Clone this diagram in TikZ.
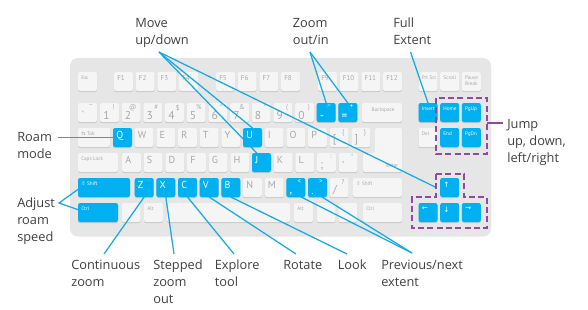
\documentclass[tikz,border=0pt]{standalone}
\usepackage{fontspec}
\setmainfont{Open Sans}
\newfontfamily\keyfont{PT Sans}
\newfontfamily\symfont{DejaVu Sans}
\usetikzlibrary{calc}

\definecolor{bodyc}{HTML}{E6E6E6}
\definecolor{gF}{HTML}{F5F5F5}
\definecolor{gT}{HTML}{A9A9A9}
\definecolor{bF}{HTML}{00B0F0}
\definecolor{bT}{HTML}{FFFFFF}
\definecolor{connc}{HTML}{18AAE6}
\definecolor{txtc}{HTML}{404040}
\definecolor{purp}{HTML}{8E4A9C}

\tikzset{
  keybase/.style={inner sep=0pt, outer sep=0pt, rounded corners=1.6pt, anchor=north west,
     preaction={fill=black, fill opacity=0.13, transform canvas={yshift=-0.8pt}}},
  gk/.style={keybase, fill=gF},
  bk/.style={keybase, fill=bF},
  klab/.style={inner sep=0pt, font=\keyfont\fontsize{7.6}{7.6}\selectfont},
  flab/.style={inner sep=0pt, font=\keyfont\fontsize{5.3}{5.5}\selectfont},
  dlab/.style={inner sep=0pt, font=\keyfont\fontsize{8.6}{8.6}\selectfont},
  slab/.style={inner sep=0pt, font=\keyfont\fontsize{5.2}{5.2}\selectfont},
  tlab/.style={inner sep=0pt, align=left, font=\keyfont\fontsize{3.9}{4.4}\selectfont},
  alab/.style={inner sep=0pt, font=\symfont\fontsize{5.5}{5.5}\selectfont},
  conn/.style={draw=connc, line width=0.95pt},
  jline/.style={draw=purp, line width=1.1pt},
  lbl/.style={inner sep=0pt, anchor=north west, align=left, text=txtc,
     font=\fontsize{9.6}{12.75}\selectfont},
  jumpbox/.style={draw=purp, line width=1.5pt, dash pattern=on 4.4pt off 2.6pt},
}

% key: colour(g|b) name x1 y1 x2 y2
\newcommand\K[6]{\node[#1k, minimum width={(#5-(#3))*0.75pt}, minimum height={(#6-(#4))*0.75pt}] (#2) at (#3,#4) {};}
% key with top-left legend
\newcommand\KX[8]{\K{#1}{#2}{#3}{#4}{#5}{#6}\node[#7, text=#1T, anchor=north west] (#2t) at ($(#2.north west)+(3,3.5)$) {#8};}
% standard 19x19 key
\newcommand\KS[6]{\KX{#1}{#2}{#3}{#4}{#3+19}{#4+19}{#5}{#6}}
% two-legend key: colour name x y lower upper
\newcommand\KN[6]{\K{#1}{#2}{#3}{#4}{#3+19}{#4+19}%
  \node[dlab, text=#1T, anchor=south west] (#2d) at ($(#2.south west)+(3,-2)$) {#5};%
  \node[slab, text=#1T, anchor=north east] (#2u) at ($(#2.north east)+(-4,1.5)$) {#6};}

\begin{document}
\begin{tikzpicture}[x=0.75pt, y=-0.75pt]
\useasboundingbox (0,0) rectangle (588,310);

% keyboard body
\path[fill=bodyc, rounded corners=6pt,
  preaction={fill=black, fill opacity=0.10, transform canvas={yshift=-1.2pt}}]
  (70,58) rectangle (491,235);

% function row
\KS{g}{kEsc}{78}{72}{tlab}{Esc}
\KS{g}{kFa}{114}{72}{flab}{F1}
\KS{g}{kFb}{135.67}{72}{flab}{F2}
\KS{g}{kFc}{157.33}{72}{flab}{F3}
\KS{g}{kFd}{179}{72}{flab}{F4}
\KS{g}{kFe}{216}{72}{flab}{F5}
\KS{g}{kFf}{237.67}{72}{flab}{F6}
\KS{g}{kFg}{259.33}{72}{flab}{F7}
\KS{g}{kFh}{281}{72}{flab}{F8}
\KS{g}{kFi}{318}{72}{flab}{F9}
\KS{g}{kFj}{339.67}{72}{flab}{F10}
\KS{g}{kFk}{361.33}{72}{flab}{F11}
\KS{g}{kFl}{383}{72}{flab}{F12}
\KS{g}{kPrt}{418.5}{72}{tlab}{Prt Scr}
\KS{g}{kScr}{440.17}{72}{tlab}{Scroll}
\KS{g}{kPau}{461.83}{72}{tlab}{Pause\\Break}

% number row
\KN{g}{kGrave}{78}{103}{\textasciigrave}{\textasciitilde}
\KN{g}{kOne}{100}{103}{1}{!}
\KN{g}{kTwo}{121.67}{103}{2}{@}
\KN{g}{kThree}{143.33}{103}{3}{\#}
\KN{g}{kFour}{165}{103}{4}{\$}
\KN{g}{kFive}{186.67}{103}{5}{\%}
\KN{g}{kSix}{208.33}{103}{6}{\textasciicircum}
\KN{g}{kSeven}{230}{103}{7}{\&}
\KN{g}{kEight}{251.67}{103}{8}{*}
\KN{g}{kNine}{273.33}{103}{9}{(}
\KN{g}{kZero}{295}{103}{0}{)}
\KN{b}{kMinus}{316.67}{103}{-}{–}
\KN{b}{kEq}{338.33}{103}{=}{+}
\K{g}{kBksp}{362}{103}{402}{122}
\node[tlab, text=gT, anchor=north] (kBkspt) at ($(kBksp.north)+(1,4.5)$) {Backspace};
\KS{b}{kIns}{418.5}{103}{tlab}{Insert}
\KS{b}{kHome}{440.17}{103}{tlab}{Home}
\KS{b}{kPgUp}{461.83}{103}{tlab}{PgUp}

% qwerty row
\KX{g}{kTab}{78}{128}{110}{147}{tlab}{{\symfont ⇆} Tab}
\KS{b}{kQ}{113}{128}{klab}{Q}
\KS{g}{kW}{134.67}{128}{klab}{W}
\KS{g}{kE}{156.33}{128}{klab}{E}
\KS{g}{kR}{178}{128}{klab}{R}
\KS{g}{kT}{199.67}{128}{klab}{T}
\KS{g}{kY}{221.33}{128}{klab}{Y}
\KS{b}{kU}{243}{128}{klab}{U}
\KS{g}{kI}{264.67}{128}{klab}{I}
\KS{g}{kO}{286.33}{128}{klab}{O}
\KS{g}{kP}{308}{128}{klab}{P}
\KN{g}{kLBr}{329.67}{128}{[}{\{}
\KN{g}{kRBr}{351.33}{128}{]}{\}}
\path[fill=gF, rounded corners=1.6pt,
  preaction={fill=black, fill opacity=0.13, transform canvas={yshift=-0.8pt}}]
  (375,128) -- (402,128) -- (402,172) -- (363,172) -- (363,153) -- (375,153) -- cycle;
\coordinate (kEnter) at (402,172);
\node[tlab, text=gT, anchor=south east] (kEntert) at ($(kEnter)+(-3.5,-4.5)$) {Enter};
\KS{g}{kDel}{418.5}{128}{tlab}{Del}
\KS{b}{kEnd}{440.17}{128}{tlab}{End}
\KS{b}{kPgDn}{461.83}{128}{tlab}{PgDn}

% home row
\KX{g}{kCaps}{78}{153}{118}{172}{tlab}{Caps Lock}
\KS{g}{kA}{122}{153}{klab}{A}
\KS{g}{kS}{143.67}{153}{klab}{S}
\KS{g}{kD}{165.33}{153}{klab}{D}
\KS{g}{kF}{187}{153}{klab}{F}
\KS{g}{kG}{208.67}{153}{klab}{G}
\KS{g}{kH}{230.33}{153}{klab}{H}
\KS{b}{kJ}{252}{153}{klab}{J}
\KS{g}{kK}{273.67}{153}{klab}{K}
\KS{g}{kL}{295.33}{153}{klab}{L}
\KN{g}{kSemi}{317}{153}{;}{:}
\KN{g}{kQuote}{338.67}{153}{'}{"}

% shift row
\KX{b}{kLShift}{78}{178}{130}{197}{tlab}{{\symfont ⇧} Shift}
\KS{b}{kZ}{134.67}{178}{klab}{Z}
\KS{b}{kX}{156.33}{178}{klab}{X}
\KS{b}{kC}{178}{178}{klab}{C}
\KS{b}{kV}{199.67}{178}{klab}{V}
\KS{b}{kB}{221.33}{178}{klab}{B}
\KS{g}{kN}{243}{178}{klab}{N}
\KS{g}{kM}{264.67}{178}{klab}{M}
\KN{b}{kLt}{286.33}{178}{,}{<}
\KN{b}{kGt}{308}{178}{.}{>}
\KN{g}{kSlash}{329.67}{178}{/}{?}
\KX{g}{kRShift}{353}{178}{402}{197}{tlab}{{\symfont ⇧} Shift}
\KS{b}{kUp}{440.17}{178}{alab}{↑}

% bottom row
\KX{b}{kLCtrl}{78}{203}{118}{222}{tlab}{Ctrl}
\K{g}{kWin}{121.67}{203}{140.67}{222}
\KX{g}{kLAlt}{144}{203}{163}{222}{tlab}{Alt}
\K{g}{kSpace}{167}{203}{290}{222}
\KX{g}{kRAlt}{294}{203}{313}{222}{tlab}{Alt}
\K{g}{kMenu}{316.67}{203}{335.67}{222}
\K{g}{kFn}{338.33}{203}{357.33}{222}
\KX{g}{kRCtrl}{363}{203}{402}{222}{tlab}{Ctrl}
\KS{b}{kLeft}{418.5}{203}{alab}{←}
\KS{b}{kDown}{440.17}{203}{alab}{↓}
\KS{b}{kRight}{461.83}{203}{alab}{→}

% labels
\node[lbl] (lmove) at (135,18) {Move\\up/down};
\node[lbl] (lzoom) at (292.5,18) {Zoom\\out/in};
\node[lbl] (lfull) at (393,18) {Full\\Extent};
\node[lbl] (lroam) at (17,132) {Roam\\mode};
\node[lbl] (ladj) at (17,197.5) {Adjust\\roam\\speed};
\node[lbl] (ljump) at (507,119.5) {Jump\\up, down,\\left/right};
\node[lbl] (lcont) at (71,260) {Continuous\\zoom};
\node[lbl] (lstep) at (153,260) {Stepped\\zoom\\out};
\node[lbl] (lexp) at (214.5,260) {Explore\\tool};
\node[lbl] (lrot) at (283,260) {Rotate};
\node[lbl] (llook) at (337.5,260) {Look};
\node[lbl] (lprev) at (381,260) {Previous/next\\extent};

% connector ends at the labels
\coordinate (cmove) at (159,52);
\coordinate (czoom) at (310,52);
\coordinate (cfull) at (410.5,52);
\coordinate (croam) at (58,137.5);
\coordinate (cadj) at (59,203);
\coordinate (ccont) at (104,254);
\coordinate (cstep) at (174,254);
\coordinate (cexp) at (234,254);
\coordinate (crot) at (296,254);
\coordinate (clook) at (347,254);
\coordinate (cprev) at (412,253);
\coordinate (cjump) at (487,123);

% connectors
\draw[conn] (cmove) -- (kU.north);
\draw[conn] (cmove) -- ($(kJ.north west)!0.25!(kJ.north east)$);
\draw[conn] (cmove) -- ([xshift=-3pt]kUp.west);
\draw[conn] (czoom) -- (kMinus.north);
\draw[conn] (czoom) -- (kEq.north);
\draw[conn] (cfull) -- (kIns.north);
\draw[conn] (croam) -- (kQ.west);
\draw[conn] ($(kLShift.north west)!0.6!(kLShift.south west)$) -- (cadj)
  -- ($(kLCtrl.north west)!0.35!(kLCtrl.south west)$);
\draw[conn] (ccont) -- (kZ.south);
\draw[conn] (cstep) -- (kX.south);
\draw[conn] (cexp) -- (kC.south);
\draw[conn] (crot) -- (kV.south);
\draw[conn] (clook) -- (kB.south);
\draw[conn] (cprev) -- ($(kLt.south west)!0.78!(kLt.south east)$);
\draw[conn] (cprev) -- ($(kGt.south west)!0.74!(kGt.south east)$);

% dashed groups
\draw[jumpbox] (436,98) rectangle (487,154);
\draw[jumpbox] (436,174) -- (464,174) -- (464,197) -- (487,197) -- (487,228)
  -- (412,228) -- (412,197) -- (436,197) -- cycle;
\draw[jline] (cjump) -- ($(ljump.north west |- cjump)+(-4,0)$);
\end{tikzpicture}
\end{document}
